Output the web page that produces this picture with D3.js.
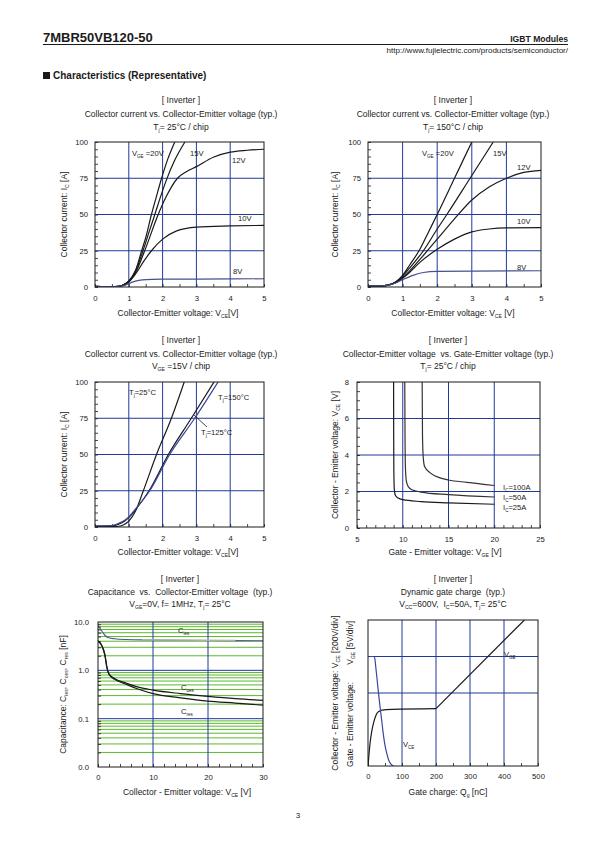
<!DOCTYPE html>
<html><head><meta charset="utf-8">
<script src="https://cdn.jsdelivr.net/npm/d3@7"></script>
<style>body{margin:0;background:#fff}svg{display:block}text{white-space:pre}</style>
</head><body>
<script>
const FONT = "'Liberation Sans', Arial, Helvetica, sans-serif";
const GRID_BLUE = "#1f3a9a", GRID_GREEN = "#5cb82c", INK = "#1a1a1a", CURVE_BLUE = "#46508f";
const TS = 8.5; // title / axis label size

// ---------- Data: Chart 1 (Tj=25°C, Ic vs Vce) ----------
const vceTicks = [0,1,2,3,4,5];
const icTicks = [0,25,50,75,100];
const vge20_25 = [[0,0.4],[0.5,0.3],[0.7,0.5],[0.85,1.5],[1.0,4],[1.2,11.5],[1.38,25],[1.5,34],[1.67,50],[1.8,61],[1.97,75],[2.15,88],[2.36,100]];
const vge15_25 = [[0,0.4],[0.5,0.3],[0.7,0.5],[0.85,1.5],[1.0,4],[1.2,11],[1.42,25],[1.6,38],[1.77,50],[1.95,63],[2.1,73],[2.35,87],[2.66,100]];
const vge12_25 = [[0,0.4],[0.5,0.3],[0.7,0.5],[0.85,1.5],[1.0,4],[1.2,10],[1.47,25],[1.87,50],[2.1,62],[2.44,75],[2.7,79.5],[3.0,83],[3.5,89.5],[4.0,93],[4.5,94.3],[5.0,95]];
const vge10_25 = [[0,0.4],[0.5,0.3],[0.7,0.5],[0.85,1.4],[1.0,3.5],[1.2,9],[1.45,18],[1.67,25],[2.0,33],[2.4,38.5],[3.0,41.3],[4.0,42.1],[5.0,42.5]];
const vge8_25  = [[0,0.4],[0.5,0.3],[0.7,0.4],[0.9,1.2],[1.0,2.3],[1.2,4],[1.4,4.9],[1.7,5.3],[2.0,5.4],[3.0,5.5],[5.0,5.7]];

// ---------- Data: Chart 2 (Tj=150°C) ----------
const vge20_150 = [[0,0.8],[0.4,0.8],[0.6,1.5],[0.8,3.5],[1.0,8],[1.2,15],[1.5,26],[1.75,38],[2.0,50],[2.5,75],[3.0,100]];
const vge15_150 = [[0,0.8],[0.4,0.8],[0.6,1.5],[0.8,3.5],[1.0,7.5],[1.2,13],[1.6,25],[2.0,40],[2.28,50],[2.95,75],[3.62,100]];
const vge12_150 = [[0,0.8],[0.4,0.8],[0.6,1.4],[0.8,3.2],[1.0,6.5],[1.2,11],[1.5,19],[2.0,33],[2.5,47],[3.0,60],[3.5,69],[4.0,75],[4.5,79],[5.0,80.5]];
const vge10_150 = [[0,0.8],[0.4,0.8],[0.6,1.3],[0.8,3],[1.0,6],[1.2,10],[1.5,17],[2.0,26],[2.5,33],[3.0,38],[3.5,40],[4.0,40.8],[5.0,41]];
const vge8_150  = [[0,0.8],[0.4,0.8],[0.6,1.3],[0.8,2.8],[1.0,5],[1.3,8],[1.6,10],[2.0,10.8],[3.0,11],[5.0,11.2]];

// ---------- Data: Chart 3 (Vge=15V, temperatures) ----------
const tj25  = [[0,0.3],[0.5,0.3],[0.7,0.5],[0.85,1.5],[1.0,4],[1.2,11],[1.43,25],[1.82,50],[2.26,75],[2.64,100]];
const tj125 = [[0,0.6],[0.5,0.8],[0.7,2],[0.9,4.5],[1.0,6.5],[1.2,12],[1.6,25],[2.17,50],[2.85,75],[3.52,100]];
const tj150 = [[0,0.8],[0.5,1],[0.7,2.5],[0.9,5],[1.0,7],[1.2,12.5],[1.62,25],[2.21,50],[2.95,75],[3.64,100]];

// ---------- Data: Chart 4 (Vce vs Vge) ----------
const vgeTicks = [5,10,15,20,25];
const vceTicks4 = [0,2,4,6,8];
const ic25  = [[9.0,8],[9.01,5],[9.03,3],[9.08,2.1],[9.2,1.78],[9.5,1.64],[10,1.55],[12,1.45],[15,1.38],[20,1.3]];
const ic50  = [[10.22,8],[10.25,5],[10.3,3.2],[10.4,2.55],[10.6,2.27],[11,2.1],[12,1.97],[15,1.83],[20,1.7]];
const ic100 = [[12.12,8],[12.16,5],[12.25,3.8],[12.4,3.35],[13,3.02],[14,2.76],[15,2.63],[17,2.5],[20,2.33]];

// ---------- Data: Chart 5 (Capacitance) ----------
const vceCapTicks = [0,10,20,30];
const capTicks = [0.01,0.1,1,10];
const capTickLabels = ["0.0","0.1","1.0","10.0"];
const cies = [[0,8.4],[0.5,7],[1,5.8],[1.5,5],[2,4.7],[3,4.5],[5,4.35],[10,4.25],[20,4.15],[30,4.1]];
const ciesShade = [[8,4.3],[15,4.22],[25,4.15]];
const coes = [[0,4.1],[0.5,3.6],[1,2.7],[1.3,2.0],[1.6,1.2],[2,0.85],[3,0.68],[5,0.55],[7,0.46],[10,0.39],[15,0.33],[20,0.29],[25,0.26],[30,0.24]];
const cres = [[0,4.0],[0.5,3.5],[1,2.6],[1.3,1.9],[1.6,1.15],[2,0.82],[3,0.65],[5,0.52],[7,0.42],[10,0.33],[15,0.27],[20,0.23],[25,0.21],[30,0.19]];

// ---------- Data: Chart 6 (Gate charge) ----------
const qgTicks = [0,100,200,300,400,500];
const divGrid = [2,3];
const vgeRise = [[0,0],[6,0.62],[11,0.95],[16,1.17],[21,1.33],[26,1.44],[33,1.5],[41,1.53],[71,1.55],[200,1.57]];
const vgeRamp = [[200,1.57],[460,4.0]];
const vceFall = [[5,3],[17,3],[20,2.95],[23,2.7],[27,2.35],[31,1.99],[35,1.65],[39,1.35],[44,0.95],[49,0.62],[55,0.35],[61,0.16],[66,0.07],[71,0.02],[75,0]];

// ---------- drawing helpers ----------
const svg = d3.select("body").append("svg").attr("width",595).attr("height",842)
  .style("font-family",FONT);

function richText(t, str, size){
  const parts = str.split(/(_\{[^}]*\})/).filter(s=>s.length);
  let shifted = false;
  parts.forEach(p=>{
    if(p.startsWith("_{")){
      t.append("tspan").attr("font-size",size*0.6).attr("dy", shifted?0:size*0.22).text(p.slice(2,-1));
      shifted = true;
    } else {
      t.append("tspan").attr("dy", shifted? -size*0.22:0).text(p);
      shifted = false;
    }
  });
  return t;
}
function txt(parent, x, y, str, o={}){
  const size = o.size||TS;
  const t = parent.append("text").attr("x",x).attr("y",y).attr("font-size",size)
    .attr("text-anchor",o.anchor||"start").attr("fill",o.fill||INK)
    .attr("font-weight",o.weight||"normal");
  if(o.rotate) t.attr("transform",`rotate(-90 ${x} ${y})`);
  richText(t,str,size);
  return t;
}
let clipId = 0;
function chart(c){
  const x = d3.scaleLinear().domain(c.xDomain).range([c.x0,c.x1]);
  const y = (c.yLog? d3.scaleLog(): d3.scaleLinear()).domain(c.yDomain).range([c.y1,c.y0]);
  const g = svg.append("g");
  (c.yGreen||[]).forEach(v=>{
    g.append("line").attr("x1",c.x0).attr("x2",c.x1).attr("y1",y(v)).attr("y2",y(v))
      .attr("stroke",GRID_GREEN).attr("stroke-width",1);
  });
  (c.xGrid||[]).forEach(v=>{
    g.append("line").attr("x1",x(v)).attr("x2",x(v)).attr("y1",c.y0).attr("y2",c.y1)
      .attr("stroke",GRID_BLUE).attr("stroke-width",1);
  });
  (c.yGrid||[]).forEach(v=>{
    g.append("line").attr("x1",c.x0).attr("x2",c.x1).attr("y1",y(v)).attr("y2",y(v))
      .attr("stroke",GRID_BLUE).attr("stroke-width",1);
  });
  if(c.xMinor){
    const ax = g.append("g").attr("transform",`translate(0,${c.y1})`)
      .call(d3.axisBottom(x).tickValues(c.xMinor).tickSize(-3).tickFormat(""));
    ax.select(".domain").remove(); ax.selectAll("line").attr("stroke",INK).attr("stroke-width",0.8);
  }
  if(c.yMinor){
    const ay = g.append("g").attr("transform",`translate(${c.x0},0)`)
      .call(d3.axisLeft(y).tickValues(c.yMinor).tickSize(-3).tickFormat(""));
    ay.select(".domain").remove(); ay.selectAll("line").attr("stroke",INK).attr("stroke-width",0.8);
  }
  const axb = g.append("g").attr("transform",`translate(0,${c.y1})`)
    .call(d3.axisBottom(x).tickValues(c.xTicks).tickSize(0).tickPadding(c.xPad||9).tickFormat(c.xFmt||(d=>d)));
  axb.select(".domain").remove();
  axb.selectAll("text").attr("font-size",7.7).attr("font-family",FONT).attr("fill",INK);
  if(c.yTicks){
    const axl = g.append("g").attr("transform",`translate(${c.x0},0)`)
      .call(d3.axisLeft(y).tickValues(c.yTicks).tickSize(0).tickPadding(c.yPad||7).tickFormat(c.yFmt||(d=>d)));
    axl.select(".domain").remove();
    axl.selectAll("text").attr("font-size",7.7).attr("font-family",FONT).attr("fill",INK);
  }
  const id = "clip"+(clipId++);
  svg.append("clipPath").attr("id",id).append("rect")
    .attr("x",c.x0).attr("y",c.y0).attr("width",c.x1-c.x0).attr("height",c.y1-c.y0);
  const cg = g.append("g").attr("clip-path",`url(#${id})`);
  c.series.forEach(s=>{
    const line = d3.line().x(d=>x(d[0])).y(d=>y(d[1])).curve(s.linear? d3.curveLinear : d3.curveMonotoneX);
    cg.append("path").datum(s.data).attr("d",line).attr("fill","none")
      .attr("stroke",s.color||INK).attr("stroke-width",s.width||1.2).attr("stroke-linejoin","round");
  });
  g.append("rect").attr("x",c.x0).attr("y",c.y0).attr("width",c.x1-c.x0).attr("height",c.y1-c.y0)
    .attr("fill","none").attr("stroke",INK).attr("stroke-width",1);
  c.titles.forEach((t,i)=> txt(svg, c.cx, c.titleY[i], t, {anchor:"middle"}));
  txt(svg, c.xLabelX, c.xLabelY, c.xLabel, {anchor:"middle"});
  if(c.yLabel) txt(svg, c.yLabelX, (c.y0+c.y1)/2, c.yLabel, {anchor:"middle", rotate:true});
  (c.notes||[]).forEach(n=> txt(svg, n[0], n[1], n[2], {size:7.6}));
  return {x,y,g};
}

// ---------- Header ----------
txt(svg, 43, 42, "7MBR50VB120-50", {size:13, weight:"bold"});
svg.append("line").attr("x1",43).attr("x2",568).attr("y1",44.5).attr("y2",44.5).attr("stroke",INK).attr("stroke-width",1);
txt(svg, 568, 42, "IGBT Modules", {size:8.6, weight:"bold", anchor:"end"});
txt(svg, 568, 53, "http://www.fujielectric.com/products/semiconductor/", {size:8, anchor:"end"});
svg.append("rect").attr("x",43).attr("y",72).attr("width",7).attr("height",7).attr("fill",INK);
txt(svg, 53, 79, "Characteristics (Representative)", {size:10, weight:"bold"});
txt(svg, 298, 818, "3", {size:8, anchor:"middle"});

const minorV = d3.range(0,5.01,0.5), minorI = d3.range(0,100.1,5);

// Chart 1
chart({x0:95,x1:264,y0:142,y1:287, xDomain:[0,5], yDomain:[0,100], xTicks:vceTicks, yTicks:icTicks,
  xGrid:[1,2,3,4], yGrid:[25,50,75], xMinor:minorV, yMinor:minorI,
  cx:181, titleY:[103,117,130],
  titles:["[ Inverter ]","Collector current vs. Collector-Emitter voltage (typ.)","T_{j}= 25°C / chip"],
  xLabel:"Collector-Emitter voltage: V_{CE}[V]", xLabelX:178, xLabelY:316,
  yLabel:"Collector current: I_{C} [A]", yLabelX:67,
  series:[{data:vge20_25},{data:vge15_25},{data:vge12_25},{data:vge10_25},{data:vge8_25,color:CURVE_BLUE}],
  notes:[[132,156,"V_{GE} =20V"],[190,156,"15V"],[232,163,"12V"],[238,221,"10V"],[233,274,"8V"]]
});
// Chart 2
chart({x0:368,x1:541,y0:142,y1:287, xDomain:[0,5], yDomain:[0,100], xTicks:vceTicks, yTicks:icTicks,
  xGrid:[1,2,3,4], yGrid:[25,50,75], xMinor:minorV, yMinor:minorI,
  cx:453, titleY:[103,117,130],
  titles:["[ Inverter ]","Collector current vs. Collector-Emitter voltage (typ.)","T_{j}= 150°C / chip"],
  xLabel:"Collector-Emitter voltage: V_{CE} [V]", xLabelX:453, xLabelY:316,
  yLabel:"Collector current: I_{C} [A]", yLabelX:338,
  series:[{data:vge20_150},{data:vge15_150},{data:vge12_150},{data:vge10_150},{data:vge8_150,color:CURVE_BLUE}],
  notes:[[422,156,"V_{GE} =20V"],[493,156,"15V"],[517,170,"12V"],[517,224,"10V"],[517,270,"8V"]]
});
// Chart 3
chart({x0:95,x1:264,y0:382,y1:527, xDomain:[0,5], yDomain:[0,100], xTicks:vceTicks, yTicks:icTicks,
  xGrid:[1,2,3,4], yGrid:[25,50,75], xMinor:minorV, yMinor:minorI,
  cx:181, titleY:[343,357,369],
  titles:["[ Inverter ]","Collector current vs. Collector-Emitter voltage (typ.)","V_{GE} =15V / chip"],
  xLabel:"Collector-Emitter voltage: V_{CE}[V]", xLabelX:178, xLabelY:555,
  yLabel:"Collector current: I_{C} [A]", yLabelX:67,
  series:[{data:tj25},{data:tj125},{data:tj150,color:"#3a46a0"}],
  notes:[[129,395,"T_{j}=25°C"],[218,400,"T_{j}=150°C"],[201,435,"T_{j}=125°C"]]
});
svg.append("line").attr("x1",207).attr("y1",427).attr("x2",194).attr("y2",415).attr("stroke",INK).attr("stroke-width",0.8);
// Chart 4
chart({x0:357,x1:540,y0:382,y1:528, xDomain:[5,25], yDomain:[0,8], xTicks:vgeTicks, yTicks:vceTicks4,
  xGrid:[10,15,20], yGrid:[2,4,6], xMinor:d3.range(5,25.1,1), yMinor:d3.range(0,8.01,0.5), yPad:8,
  cx:448, titleY:[343,357,369],
  titles:["[ Inverter ]","Collector-Emitter voltage  vs. Gate-Emitter voltage (typ.)","T_{j}= 25°C / chip"],
  xLabel:"Gate - Emitter voltage: V_{GE} [V]", xLabelX:445, xLabelY:555,
  yLabel:"Collector - Emitter voltage: V_{CE} [V]", yLabelX:338,
  series:[{data:ic25},{data:ic50,color:"#333"},{data:ic100,color:"#333"}],
  notes:[[503,490,"I_{C}=100A"],[503,500,"I_{C}=50A"],[503,510,"I_{C}=25A"]]
});
// Chart 5
const greens = [];
[0.01,0.1,1].forEach(d=>{ for(let k=2;k<=9;k++) greens.push(d*k); });
chart({x0:98,x1:263,y0:622,y1:767, xDomain:[0,30], yDomain:[0.01,10], yLog:true,
  xTicks:vceCapTicks, yTicks:capTicks, yFmt:(d,i)=>capTickLabels[i], yPad:9, xPad:8,
  xGrid:[10,20], yGrid:[0.1,1], yGreen:greens, xMinor:d3.range(0,30.1,2), yMinor:greens,
  cx:180, titleY:[582,595,607],
  titles:["[ Inverter ]","Capacitance  vs.  Collector-Emitter voltage  (typ.)","V_{GE}=0V, f= 1MHz, T_{j}= 25°C"],
  xLabel:"Collector - Emitter voltage: V_{CE} [V]", xLabelX:187, xLabelY:795,
  yLabel:"Capacitance: C_{ies}, C_{oes}, C_{res} [nF]", yLabelX:66,
  series:[{data:cies,color:"#4a5590",width:1.1},{data:ciesShade,color:"#b0b0b0",width:1.4},
          {data:coes,width:1.2},{data:cres,width:1.2}],
  notes:[[178,633,"C_{ies}"],[181,690,"C_{oes}"],[181,714,"C_{res}"]]
});
// Chart 6
chart({x0:368,x1:538,y0:620,y1:766, xDomain:[0,500], yDomain:[0,4],
  xTicks:qgTicks, xGrid:[100,200,300,400], yGrid:divGrid, xMinor:d3.range(0,500.1,50), xPad:8,
  cx:453, titleY:[582,595,607],
  titles:["[ Inverter ]","Dynamic gate charge  (typ.)","V_{CC}=600V,  I_{C}=50A, T_{j}= 25°C"],
  xLabel:"Gate charge: Q_{g} [nC]", xLabelX:448, xLabelY:795,
  series:[{data:vgeRise},{data:vgeRamp,linear:true},{data:vceFall,color:"#3a46a0"}],
  notes:[[504,657,"V_{GE}"],[403,747,"V_{CE}"]]
});
txt(svg, 338, 693, "Collector - Emitter voltage: V_{CE} [200V/div]", {anchor:"middle", rotate:true});
txt(svg, 353, 767, "Gate - Emitter voltage:", {anchor:"start", rotate:true});
txt(svg, 353, 621, "V_{GE} [5V/div]", {anchor:"end", rotate:true});
</script>
</body></html>
